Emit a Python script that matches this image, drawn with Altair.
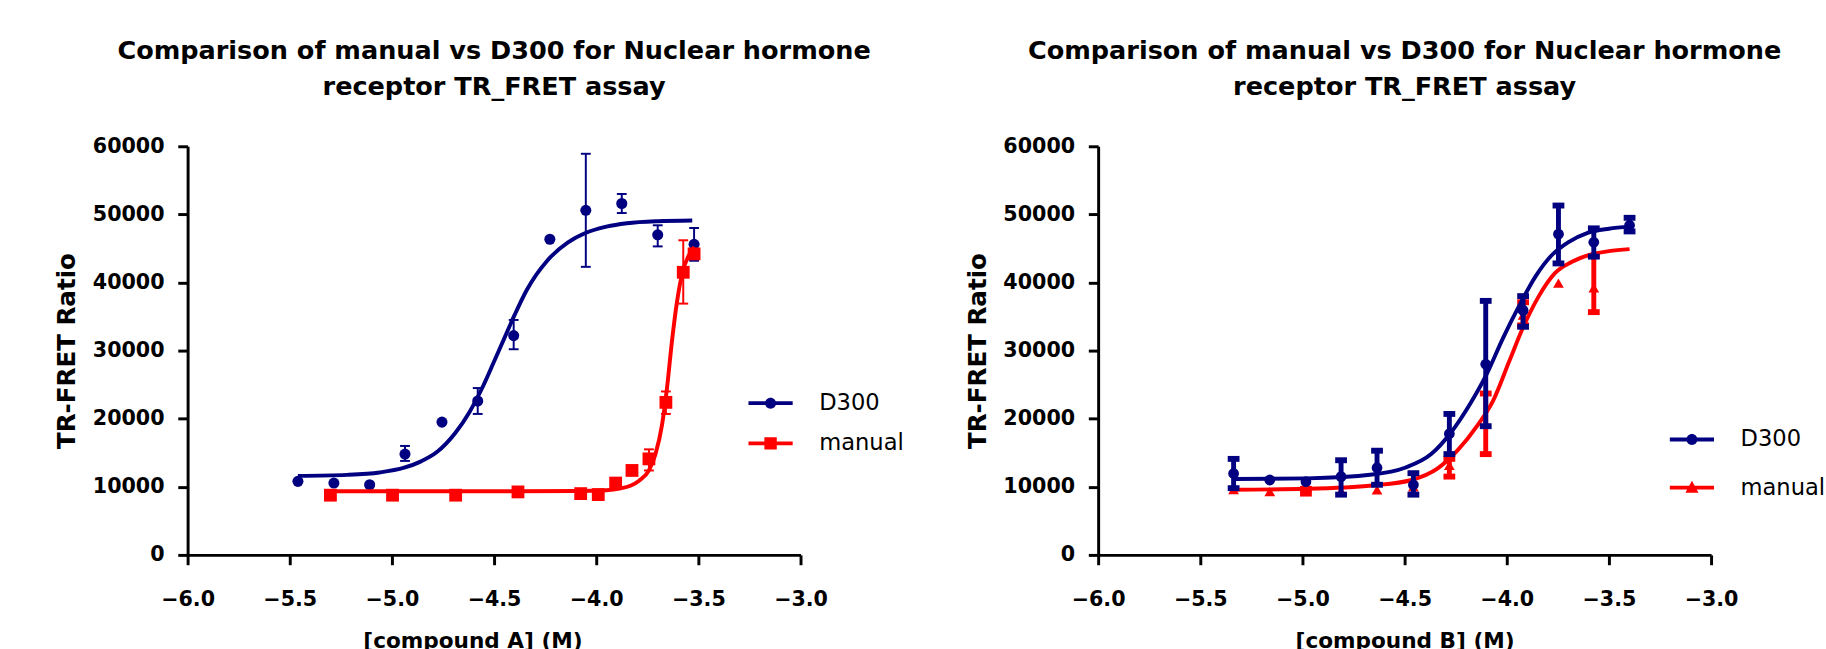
import altair as alt
import pandas as pd

NAVY = "#000080"
RED = "#ff0000"
FONT = "DejaVu Sans"

TITLE_LINES = ["Comparison of manual vs D300 for Nuclear hormone", "receptor TR_FRET assay"]
SERIES = ["D300", "manual"]
X_TICKS = [-6.0, -5.5, -5.0, -4.5, -4.0, -3.5, -3.0]
Y_TICKS = [0, 10000, 20000, 30000, 40000, 50000, 60000]
X_TITLE_A = "[compound A] (M)"
X_TITLE_B = "[compound B] (M)"
Y_TITLE = "TR-FRET Ratio"

# ---------------- Panel A (compound A) ----------------
A_D300_X = [-5.460, -5.284, -5.109, -4.936, -4.755, -4.580, -4.404, -4.227, -4.051, -3.875, -3.699, -3.521]
A_D300_Y = [10800, 10550, 10300, 14800, 19500, 22600, 32200, 46350, 50600, 51600, 47000, 45600]
A_D300_LO = [None, None, None, 13800, None, 20700, 30200, None, 42300, 50200, 45300, 43200]
A_D300_HI = [None, None, None, 16000, None, 24500, 34500, None, 58900, 53000, 48400, 48000]

A_MAN_X = [-5.301, -4.997, -4.688, -4.383, -4.076, -3.990, -3.905, -3.825, -3.742, -3.659, -3.574, -3.521]
A_MAN_Y = [8770, 8770, 8770, 9250, 9000, 8860, 10550, 12400, 14100, 22400, 41500, 44200]
A_MAN_LO = [None, None, None, None, None, None, None, None, 12400, 20700, 36900, None]
A_MAN_HI = [None, None, None, None, None, None, None, None, 15500, 24000, 46200, None]

A_D300_CX = [-5.46, -5.22, -5.06, -4.94, -4.86, -4.78, -4.69, -4.62, -4.56, -4.50, -4.45, -4.40, -4.34, -4.24, -4.14, -4.05, -3.95, -3.85, -3.70, -3.53]
A_D300_CY = [11600, 11750, 12100, 12800, 13700, 15100, 17900, 21000, 24400, 28400, 31800, 35200, 38900, 43200, 45850, 47300, 48200, 48700, 49000, 49100]

A_MAN_CX = [-5.33, -4.60, -4.10, -3.95, -3.886, -3.83, -3.79, -3.742, -3.71, -3.678, -3.654, -3.63, -3.606, -3.575, -3.55, -3.52]
A_MAN_CY = [9350, 9350, 9380, 9500, 9730, 10200, 10900, 12400, 14800, 19100, 24400, 31200, 36900, 41800, 43800, 45200]

# ---------------- Panel B (compound B) ----------------
B_D300_X = [-5.337, -5.160, -4.983, -4.811, -4.635, -4.457, -4.281, -4.103, -3.920, -3.747, -3.574, -3.399]
B_D300_Y = [11960, 11000, 10760, 11500, 12800, 10300, 17800, 28000, 35900, 47100, 45900, 48400]
B_D300_LO = [9800, None, None, 8850, 10300, 8850, 14800, 18900, 33500, 42800, 43800, 47500]
B_D300_HI = [14100, None, None, 13900, 15300, 12000, 20700, 37300, 38000, 51300, 47950, 49500]

B_MAN_X = [-5.337, -5.160, -4.983, -4.811, -4.635, -4.457, -4.281, -4.103, -3.920, -3.747, -3.574, -3.399]
B_MAN_Y = [9600, 9300, 9350, 9400, 9550, 10000, 13150, 19300, 35200, 39900, 39200, 47800]
B_MAN_LO = [None, None, 9000, None, None, None, 11500, 14800, 33700, None, 35650, None]
B_MAN_HI = [None, None, 9700, None, None, None, 14100, 23700, 37100, None, 43900, None]

B_D300_CX = [-5.337, -4.977, -4.658, -4.498, -4.370, -4.275, -4.179, -4.099, -4.019, -3.939, -3.859, -3.780, -3.700, -3.604, -3.50, -3.399]
B_D300_CY = [11140, 11240, 11800, 12800, 14800, 17900, 22200, 26500, 31800, 36600, 40900, 44000, 45900, 47300, 47900, 48200]

B_MAN_CX = [-5.34, -4.977, -4.658, -4.466, -4.338, -4.242, -4.146, -4.066, -3.987, -3.923, -3.843, -3.763, -3.683, -3.604, -3.50, -3.399]
B_MAN_CY = [9570, 9710, 10200, 11000, 12700, 15300, 18900, 22700, 28500, 33200, 38000, 41400, 43000, 44000, 44600, 44900]

# legend symbols: line segment + marker (custom SVG paths, unit = sqrt(size)/2)
PATH_LINE = "M-2.5,-0.22H2.5V0.22H-2.5Z"
PATH_CIRCLE = PATH_LINE + "M-0.62,0A0.62,0.62 0 1,1 0.62,0A0.62,0.62 0 1,1 -0.62,0Z"
PATH_SQUARE = PATH_LINE + "M-0.7,-0.7H0.7V0.7H-0.7Z"
PATH_TRIANGLE = PATH_LINE + "M0,-0.78L0.74,0.58H-0.74Z"

X_SCALE = alt.Scale(domain=[-6, -3], nice=False, zero=False)
Y_SCALE = alt.Scale(domain=[0, 60000], nice=False, zero=True)


def xenc(title, title_x):
    kw = dict(title=title, values=X_TICKS, format=".1f", labelFlush=False,
              labelOverlap=False, labelPadding=25, titlePadding=21, titleFontSize=22)
    if title_x is not None:
        kw["titleX"] = title_x
    return alt.X("x:Q", scale=X_SCALE, axis=alt.Axis(**kw))


def yenc(field="y"):
    return alt.Y(f"{field}:Q", scale=Y_SCALE,
                 axis=alt.Axis(title=Y_TITLE, values=Y_TICKS, format="d", labelPadding=14,
                               titlePadding=13))


def pts_df(xs, ys):
    return pd.DataFrame({"x": xs, "y": ys})


def err_df(xs, lo, hi):
    rows = [(x, l, h) for x, l, h in zip(xs, lo, hi) if l is not None]
    return pd.DataFrame(rows, columns=["x", "lo", "hi"])


def series_layers(xt, cx, cy, px, py, lo, hi, color, shape, psize, ebw, capw, capt):
    xtitle, tx = xt
    curve = alt.Chart(pts_df(cx, cy)).mark_line(
        color=color, strokeWidth=4, interpolate="monotone").encode(x=xenc(xtitle, tx), y=yenc())
    e = err_df(px, lo, hi)
    rule = alt.Chart(e).mark_rule(color=color, strokeWidth=ebw, opacity=1).encode(
        x=xenc(xtitle, tx), y=yenc("lo"), y2="hi:Q")
    cap_lo = alt.Chart(e).mark_tick(color=color, orient="horizontal", size=capw, thickness=capt,
                                    opacity=1).encode(x=xenc(xtitle, tx), y=yenc("lo"))
    cap_hi = alt.Chart(e).mark_tick(color=color, orient="horizontal", size=capw, thickness=capt,
                                    opacity=1).encode(x=xenc(xtitle, tx), y=yenc("hi"))
    pts = alt.Chart(pts_df(px, py)).mark_point(
        filled=True, opacity=1, shape=shape, size=psize, color=color, strokeWidth=0).encode(
        x=xenc(xtitle, tx), y=yenc())
    return [curve, rule, cap_lo, cap_hi, pts]


def legend_layer(xt, paths, lx, ly, row_pad):
    xtitle, tx = xt
    leg = alt.Legend(title=None, orient="none", legendX=lx, legendY=ly, symbolSize=324,
                     symbolStrokeWidth=0, labelFont=FONT, labelFontSize=23, labelColor="black",
                     labelOffset=38, rowPadding=row_pad, padding=0)
    df = pd.DataFrame({"x": [-6.0, -6.0], "y": [0, 0], "series": SERIES})
    return alt.Chart(df).transform_filter("datum.y > 1").mark_point(
        filled=True, opacity=1, size=324).encode(
        x=xenc(xtitle, tx), y=yenc(),
        color=alt.Color("series:N", scale=alt.Scale(domain=SERIES, range=[NAVY, RED]), legend=leg),
        shape=alt.Shape("series:N", scale=alt.Scale(domain=SERIES, range=paths), legend=leg))


def title():
    return alt.TitleParams(text=TITLE_LINES, font=FONT, fontSize=26, fontWeight="bold",
                           color="black", anchor="middle", frame="group", lineHeight=37, offset=36)


XA = (X_TITLE_A, 290)
XB = (X_TITLE_B, None)

left_layers = (
    series_layers(XA, A_D300_CX, A_D300_CY, A_D300_X, A_D300_Y, A_D300_LO, A_D300_HI,
                  NAVY, "circle", 127, 2, 10, 2)
    + series_layers(XA, A_MAN_CX, A_MAN_CY, A_MAN_X, A_MAN_Y, A_MAN_LO, A_MAN_HI,
                    RED, "square", 170, 2, 10, 2)
    + [legend_layer(XA, [PATH_CIRCLE, PATH_SQUARE], 582, 250, 17)]
)
left = alt.layer(*left_layers).properties(width=624, height=416, title=title())

right_layers = (
    series_layers(XB, B_MAN_CX, B_MAN_CY, B_MAN_X, B_MAN_Y, B_MAN_LO, B_MAN_HI,
                  RED, "triangle-up", 120, 5, 12, 6)
    + series_layers(XB, B_D300_CX, B_D300_CY, B_D300_X, B_D300_Y, B_D300_LO, B_D300_HI,
                    NAVY, "circle", 120, 5, 12, 6)
    + [legend_layer(XB, [PATH_CIRCLE, PATH_TRIANGLE], 593, 287, 25)]
)
right = alt.layer(*right_layers).properties(width=624, height=416, title=title())

chart = (
    alt.hconcat(left, right, spacing=61)
    .resolve_scale(color="independent", shape="independent")
    .properties(padding={"left": 55, "top": 33, "right": 0, "bottom": 0}, background="white")
    .configure_view(stroke=None)
    .configure_axis(
        domainColor="black", domainWidth=3, tickColor="black", tickWidth=3, tickSize=10,
        grid=False, labelFont=FONT, labelFontSize=21, labelFontWeight="bold", labelColor="black",
        titleFont=FONT, titleFontSize=25, titleFontWeight="bold", titleColor="black")
)

chart.save("out.html", embed_options={"renderer": "svg", "actions": False})
